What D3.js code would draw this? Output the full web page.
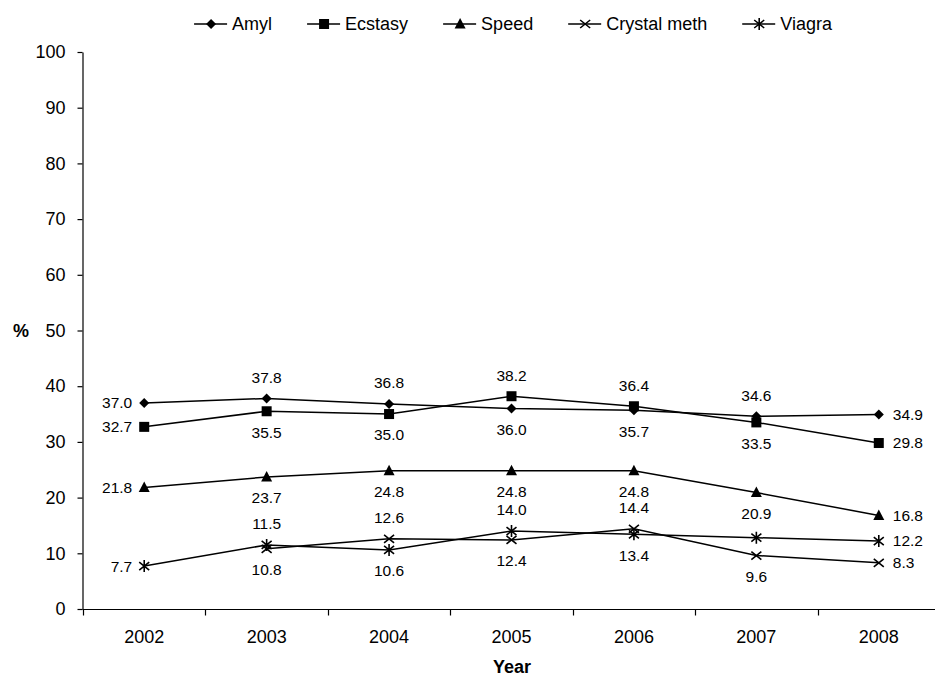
<!DOCTYPE html>
<html lang="en">
<head>
<meta charset="UTF-8">
<title>Drug use by year</title>
<script src="https://d3js.org/d3.v7.min.js"></script>
<style>
    body { margin: 0; background: #fff; }
    svg { display: block; font-family: "Liberation Sans", Arial, sans-serif; }
    .axis text { font-size: 18px; fill: #000; }
    .axis path, .axis line { stroke: #000; stroke-width: 1.2px; }
    .dlabel { font-size: 15.5px; fill: #000; }
    .legend text { font-size: 18px; fill: #000; }
</style>
</head>
<body>
<script>
    const years = ["2002", "2003", "2004", "2005", "2006", "2007", "2008"];
    const yTicks = [0, 10, 20, 30, 40, 50, 60, 70, 80, 90, 100];

    const amyl = [37.0, 37.8, 36.8, 36.0, 35.7, 34.6, 34.9];
    const ecstasy = [32.7, 35.5, 35.0, 38.2, 36.4, 33.5, 29.8];
    const speed = [21.8, 23.7, 24.8, 24.8, 24.8, 20.9, 16.8];
    const crystalMeth = [null, 10.8, 12.6, 12.4, 14.4, 9.6, 8.3];
    const viagra = [7.7, 11.5, 10.6, 14.0, 13.4, 12.8, 12.2];

    // where each value label sits: L left, A above, B below, R right, "" none
    const amylPos = ["L", "A", "A", "B", "B", "A", "R"];
    const ecstasyPos = ["L", "B", "B", "A", "A", "B", "R"];
    const speedPos = ["L", "B", "B", "B", "B", "B", "R"];
    const crystalPos = ["", "B", "A", "B", "A", "B", "R"];
    const viagraPos = ["L", "A", "B", "A", "B", "", "R"];

    const series = [
        { name: "Amyl", values: amyl, pos: amylPos, marker: "diamond" },
        { name: "Ecstasy", values: ecstasy, pos: ecstasyPos, marker: "square" },
        { name: "Speed", values: speed, pos: speedPos, marker: "triangle" },
        { name: "Crystal meth", values: crystalMeth, pos: crystalPos, marker: "cross" },
        { name: "Viagra", values: viagra, pos: viagraPos, marker: "star" }
    ];

    const width = 935, height = 678;
    const svg = d3.select("body").append("svg")
        .attr("width", width)
        .attr("height", height);

    const x = d3.scaleBand().domain(years).range([83, 940]);
    const y = d3.scaleLinear().domain([0, 100]).range([609, 52]);
    const cx = d => x(d) + x.bandwidth() / 2;

    // y axis
    svg.append("g")
        .attr("class", "axis")
        .attr("transform", "translate(82.5,0)")
        .call(d3.axisLeft(y).tickValues(yTicks).tickSize(5).tickSizeOuter(0).tickPadding(12));

    // x axis
    const xg = svg.append("g")
        .attr("class", "axis")
        .attr("transform", "translate(0,609.5)")
        .call(d3.axisBottom(x).tickSize(0).tickPadding(21));
    xg.select(".domain").attr("d", "M82.5,0H935");
    xg.selectAll(".bound")
        .data(d3.range(years.length + 1))
        .enter().append("line")
        .attr("class", "bound")
        .attr("x1", i => Math.round(x.range()[0] + i * x.step()) + 0.5)
        .attr("x2", i => Math.round(x.range()[0] + i * x.step()) + 0.5)
        .attr("y1", 0)
        .attr("y2", 6);

    svg.append("text")
        .attr("x", 21).attr("y", y(50))
        .attr("dy", "0.35em")
        .attr("text-anchor", "middle")
        .style("font-size", "18px").style("font-weight", "bold")
        .text("%");

    svg.append("text")
        .attr("x", 512).attr("y", 673)
        .attr("text-anchor", "middle")
        .style("font-size", "18px").style("font-weight", "bold")
        .text("Year");

    function drawMarker(g, type) {
        if (type === "diamond") {
            g.append("path").attr("d", "M0,-5L5,0L0,5L-5,0Z").attr("fill", "#000");
        } else if (type === "square") {
            g.append("rect").attr("x", -5).attr("y", -5).attr("width", 10).attr("height", 10).attr("fill", "#000");
        } else if (type === "triangle") {
            g.append("path").attr("d", "M0,-6L5.5,4.5L-5.5,4.5Z").attr("fill", "#000");
        } else if (type === "cross") {
            g.append("path").attr("d", "M-5,-4L5,4M-5,4L5,-4").attr("stroke", "#000").attr("stroke-width", 1.6).attr("fill", "none");
        } else {
            g.append("path").attr("d", "M-5,-4L5,4M-5,4L5,-4M0,-6L0,6").attr("stroke", "#000").attr("stroke-width", 1.6).attr("fill", "none");
        }
    }

    const line = d3.line()
        .defined(d => d.v !== null)
        .x(d => cx(d.year))
        .y(d => y(d.v));

    series.forEach(s => {
        const pts = s.values.map((v, i) => ({ year: years[i], v: v, pos: s.pos[i] }));
        svg.append("path")
            .datum(pts)
            .attr("d", line)
            .attr("fill", "none")
            .attr("stroke", "#000")
            .attr("stroke-width", 1.5);

        pts.filter(d => d.v !== null).forEach(d => {
            const g = svg.append("g").attr("transform", `translate(${cx(d.year)},${y(d.v)})`);
            drawMarker(g, s.marker);
        });

        svg.selectAll(null)
            .data(pts.filter(d => d.v !== null && d.pos !== ""))
            .enter().append("text")
            .attr("class", "dlabel")
            .attr("x", d => d.pos === "L" ? cx(d.year) - 12 : d.pos === "R" ? cx(d.year) + 14 : cx(d.year))
            .attr("y", d => d.pos === "A" ? y(d.v) - 21 : d.pos === "B" ? y(d.v) + 21 : y(d.v))
            .attr("dy", "0.35em")
            .attr("text-anchor", d => d.pos === "L" ? "end" : d.pos === "R" ? "start" : "middle")
            .text(d => d.v.toFixed(1));
    });

    // legend
    const legend = svg.append("g").attr("class", "legend");
    let lx = 0;
    series.forEach(s => {
        const item = legend.append("g").attr("transform", `translate(${lx},24)`);
        item.append("line").attr("x1", 0).attr("x2", 33).attr("y1", 0).attr("y2", 0)
            .attr("stroke", "#000").attr("stroke-width", 1.5);
        drawMarker(item.append("g").attr("transform", "translate(17,0)"), s.marker);
        const t = item.append("text").attr("x", 38).attr("dy", "0.35em").text(s.name);
        lx += 38 + t.node().getComputedTextLength() + 35;
    });
    const legendW = lx - 35;
    legend.attr("transform", `translate(${513 - legendW / 2},0)`);
</script>
</body>
</html>
